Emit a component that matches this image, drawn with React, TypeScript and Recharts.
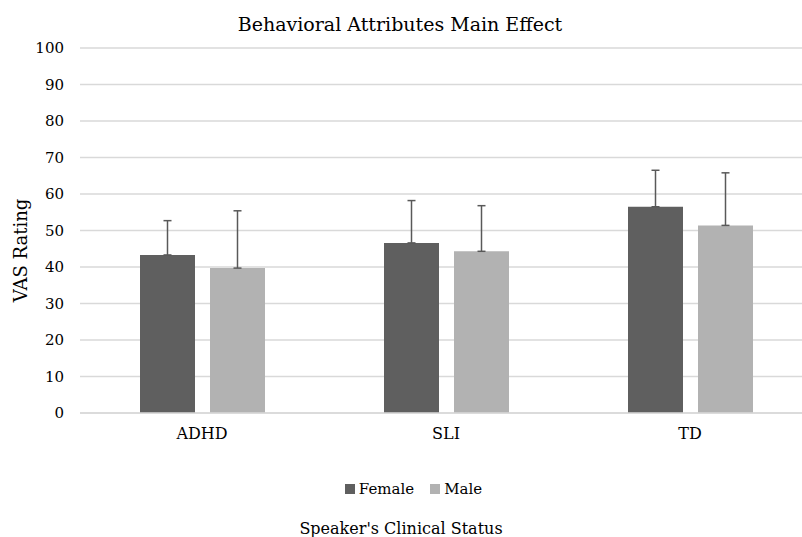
import React from "react";
import {
  BarChart,
  Bar,
  XAxis,
  YAxis,
  CartesianGrid,
  ErrorBar,
  Legend,
  Label,
} from "recharts";

const categories = ["ADHD", "SLI", "TD"];
const femaleValues = [43.3, 46.6, 56.5];
const maleValues = [39.7, 44.3, 51.4];
const femaleErrors = [9.4, 11.6, 10.0];
const maleErrors = [15.7, 12.5, 14.4];
const yTicks = [0, 10, 20, 30, 40, 50, 60, 70, 80, 90, 100];

const FONT = '"DejaVu Serif", "Liberation Serif", Tinos, serif';
const FEMALE = "#5f5f5f";
const MALE = "#b2b2b2";
const GRID = "#d9d9d9";

const data = categories.map((name, i) => ({
  name,
  female: femaleValues[i],
  male: maleValues[i],
  // only the upper half of the error bar is drawn
  femaleErr: [0, femaleErrors[i]],
  maleErr: [0, maleErrors[i]],
}));

function LegendContent() {
  const items = [
    { label: "Female", color: FEMALE },
    { label: "Male", color: MALE },
  ];
  return (
    <div
      style={{
        display: "flex",
        justifyContent: "center",
        gap: 16,
        fontFamily: FONT,
        fontSize: 15,
        color: "#000",
      }}
    >
      {items.map((it) => (
        <div key={it.label} style={{ display: "flex", alignItems: "center" }}>
          <span
            style={{
              display: "inline-block",
              width: 10,
              height: 10,
              background: it.color,
              marginRight: 4,
            }}
          />
          {it.label}
        </div>
      ))}
    </div>
  );
}

export default function App() {
  return (
    <div
      style={{
        position: "absolute",
        left: 0,
        top: 0,
        width: 802,
        height: 537,
        overflow: "hidden",
        background: "#fff",
      }}
    >
      <div
        style={{
          position: "absolute",
          top: 13,
          left: 0,
          width: 800,
          textAlign: "center",
          fontFamily: FONT,
          fontSize: 19,
          color: "#000",
        }}
      >
        Behavioral Attributes Main Effect
      </div>
      <BarChart
        width={812}
        height={537}
        data={data}
        margin={{ top: 48, right: 0, bottom: 0, left: 0 }}
        barSize={55}
        barGap={15}
      >
        <CartesianGrid vertical={false} stroke={GRID} strokeWidth={1.5} />
        <XAxis
          dataKey="name"
          height={124}
          axisLine={{ stroke: GRID, strokeWidth: 1.5 }}
          tickLine={false}
          tickMargin={9}
          tick={{ fill: "#000", fontSize: 16, fontFamily: FONT }}
        >
          <Label
            content={({ viewBox }: any) => (
              <text
                x={401}
                y={viewBox.y + 121}
                textAnchor="middle"
                fontFamily={FONT}
                fontSize={16}
                fill="#000"
              >
                Speaker's Clinical Status
              </text>
            )}
          />
        </XAxis>
        <YAxis
          width={80}
          domain={[0, 100]}
          ticks={yTicks}
          axisLine={false}
          tickLine={false}
          tickMargin={10}
          tick={{ fill: "#000", fontSize: 15, fontFamily: FONT }}
        >
          <Label
            content={({ viewBox }: any) => {
              const cy = viewBox.y + viewBox.height / 2 + 20;
              return (
                <text
                  x={20}
                  y={cy}
                  transform={`rotate(-90, 20, ${cy})`}
                  textAnchor="middle"
                  dominantBaseline="central"
                  fontFamily={FONT}
                  fontSize={18}
                  fill="#000"
                >
                  VAS Rating
                </text>
              );
            }}
          />
        </YAxis>
        <Legend
          layout="horizontal"
          verticalAlign="middle"
          align="center"
          wrapperStyle={{ top: 480, left: 0, width: 827 }}
          content={() => <LegendContent />}
        />
        <Bar dataKey="female" name="Female" fill={FEMALE} isAnimationActive={false}>
          <ErrorBar
            dataKey="femaleErr"
            direction="y"
            width={4}
            stroke="#595959"
            strokeWidth={1.5}
            isAnimationActive={false}
          />
        </Bar>
        <Bar dataKey="male" name="Male" fill={MALE} isAnimationActive={false}>
          <ErrorBar
            dataKey="maleErr"
            direction="y"
            width={4}
            stroke="#595959"
            strokeWidth={1.5}
            isAnimationActive={false}
          />
        </Bar>
      </BarChart>
    </div>
  );
}
